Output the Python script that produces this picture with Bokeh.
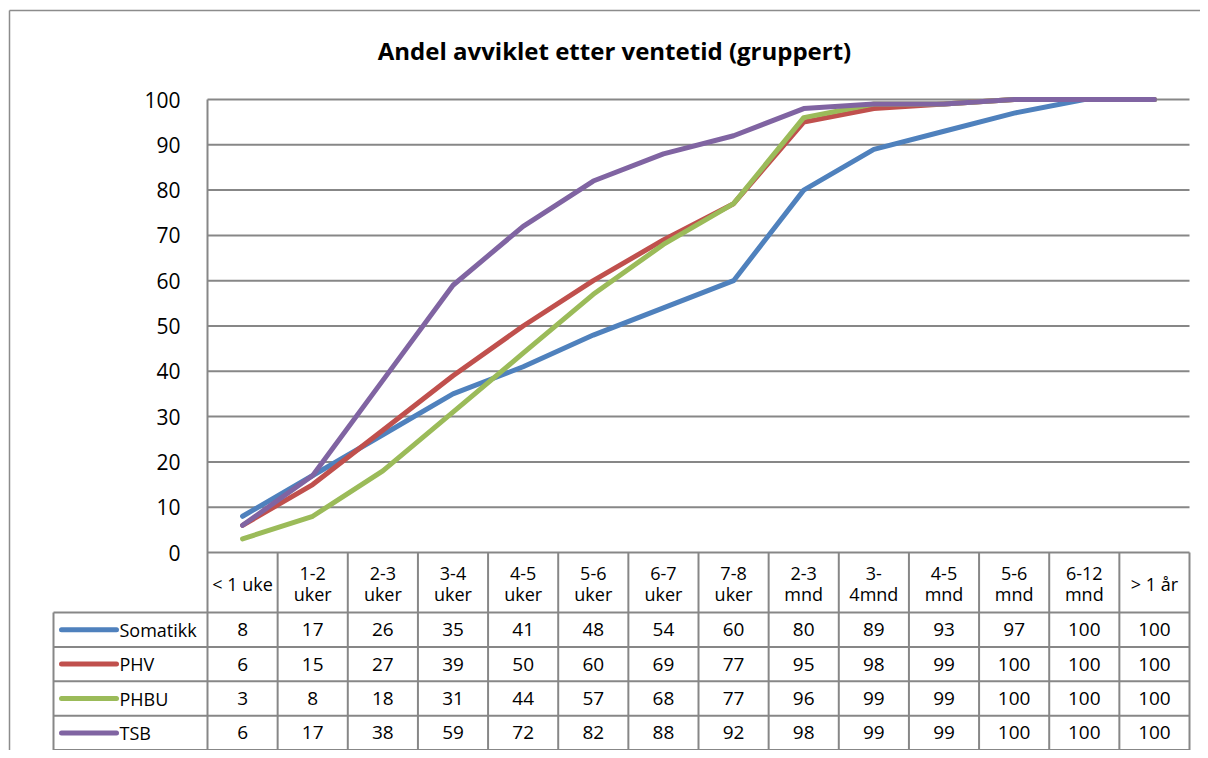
from bokeh.plotting import figure
from bokeh.models import Range1d, FixedTicker
from bokeh.core.properties import value
from bokeh.embed import file_html
from bokeh.resources import INLINE

# ---------------- data ----------------
title_text = "Andel avviklet etter ventetid (gruppert)"
categories = ["< 1 uke", "1-2\nuker", "2-3\nuker", "3-4\nuker", "4-5\nuker", "5-6\nuker",
              "6-7\nuker", "7-8\nuker", "2-3\nmnd", "3-\n4mnd", "4-5\nmnd", "5-6\nmnd",
              "6-12\nmnd", "> 1 år"]
series_names = ["Somatikk", "PHV", "PHBU", "TSB"]
somatikk = [8, 17, 26, 35, 41, 48, 54, 60, 80, 89, 93, 97, 100, 100]
phv = [6, 15, 27, 39, 50, 60, 69, 77, 95, 98, 99, 100, 100, 100]
phbu = [3, 8, 18, 31, 44, 57, 68, 77, 96, 99, 99, 100, 100, 100]
tsb = [6, 17, 38, 59, 72, 82, 88, 92, 98, 99, 99, 100, 100, 100]
y_ticks = [0, 10, 20, 30, 40, 50, 60, 70, 80, 90, 100]

# ---------------- styles / layout ----------------
colors = ["#4F81BD", "#C0504D", "#9BBB59", "#8064A2"]
FONT = "Open Sans"
GRID = "#878787"
W, H = 1200, 750
OFF = 0
PL, PR, PT, PB = 207, 1189, 99, 552   # plot area in page pixels
N = len(categories)
CW = (PR - PL) / N
YS = (PB - PT) / 100.0


def X(px):
    return (px - PL) / CW


def Y(py):
    return (PB - py) / YS


HEADER_B = 612
ROW_H = 34.4
LEG_L = 53
row_bounds = [HEADER_B + ROW_H * i for i in range(len(series_names) + 1)]
TABLE_B = row_bounds[-1]

p = figure(width=W, height=H, output_backend="svg", toolbar_location=None,
           x_range=Range1d(X(OFF), X(OFF + W)), y_range=Range1d(Y(OFF + H), Y(OFF)),
           min_border=0, min_border_left=0, min_border_right=0,
           min_border_top=0, min_border_bottom=0)
p.outline_line_color = None
p.background_fill_color = "white"
p.border_fill_color = "white"
p.xgrid.visible = False
p.ygrid.visible = False
p.xaxis.visible = False

# y axis placed at the left edge of the plot area
yax = p.yaxis[0]
yax.fixed_location = 0
yax.ticker = FixedTicker(ticks=y_ticks)
yax.bounds = (0, 100)
yax.axis_line_color = None
yax.major_tick_line_color = None
yax.minor_tick_line_color = None
yax.major_tick_out = 0
yax.major_tick_in = 0
yax.major_label_standoff = 27
yax.major_label_text_font = FONT
yax.major_label_text_font_size = "21px"
yax.major_label_text_color = "black"

# outer frame (left + top edges)
p.segment(x0=[X(9), X(9)], y0=[Y(10), Y(10)], x1=[X(9), X(OFF + W)], y1=[Y(OFF + H), Y(10)],
          line_color="#8c8c8c", line_width=1.5)

# horizontal gridlines
gy = [t for t in y_ticks]
p.segment(x0=[0] * len(gy), x1=[N] * len(gy), y0=gy, y1=gy, line_color=GRID, line_width=2)

# table lines
hy = [Y(b) for b in row_bounds]
p.segment(x0=[X(LEG_L)] * len(hy), x1=[N] * len(hy), y0=hy, y1=hy, line_color=GRID, line_width=2)
vx = list(range(1, N + 1))
p.segment(x0=vx, x1=vx, y0=[0] * len(vx), y1=[Y(TABLE_B)] * len(vx), line_color=GRID, line_width=2)
p.segment(x0=[0, X(LEG_L)], x1=[0, X(LEG_L)], y0=[100, Y(HEADER_B)], y1=[Y(TABLE_B), Y(TABLE_B)],
          line_color=GRID, line_width=2)

# series lines
xs = [i + 0.5 for i in range(N)]
series = [somatikk, phv, phbu, tsb]
for vals, col in zip(series, colors):
    p.line(x=xs, y=vals, line_color=col, line_width=5, line_cap="round", line_join="round")

# category header
p.text(x=xs, y=[Y((PB + HEADER_B) / 2 + 1)] * N, text=categories, text_font=value(FONT),
       text_font_size="18px", text_align="center", text_baseline="middle",
       text_line_height=0.9, text_color="black")

# table values + legend
tx, ty, tt = [], [], []
for r, vals in enumerate(series):
    cy = Y((row_bounds[r] + row_bounds[r + 1]) / 2)
    for c, v in enumerate(vals):
        tx.append(c + 0.5)
        ty.append(cy)
        tt.append(str(v))
p.text(x=tx, y=ty, text=tt, text_font=value(FONT), text_font_size="19px",
       text_align="center", text_baseline="middle", text_color="black")

ly = [Y((row_bounds[r] + row_bounds[r + 1]) / 2) for r in range(len(series_names))]
p.segment(x0=[X(61)] * len(ly), x1=[X(116)] * len(ly), y0=ly, y1=ly, line_color=colors,
          line_width=5, line_cap="round")
p.text(x=[X(119)] * len(ly), y=ly, text=series_names, text_font=value(FONT),
       text_font_size="18px", text_align="left", text_baseline="middle", text_color="black")

# title
p.text(x=[X(614)], y=[Y(50)], text=[title_text], text_font=value(FONT), text_font_size="24px",
       text_font_style="bold", text_align="center", text_baseline="middle", text_color="black")

open("out.html", "w").write(file_html(p, INLINE))
